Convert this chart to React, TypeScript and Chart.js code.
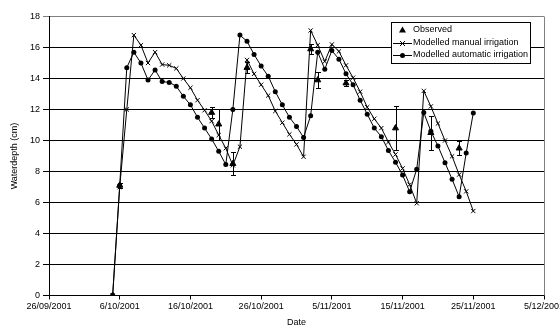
import React, { useEffect, useRef } from "react";
import { Chart, registerables } from "chart.js";

Chart.register(...registerables);

// Days after 26/09/2001 (day 0)
const dayNumbers = [
  9, 10, 11, 12, 13, 14, 15, 16, 17, 18, 19, 20, 21, 22, 23, 24, 25, 26, 27, 28,
  29, 30, 31, 32, 33, 34, 35, 36, 37, 38, 39, 40, 41, 42, 43, 44, 45, 46, 47, 48,
  49, 50, 51, 52, 53, 54, 55, 56, 57, 58, 59, 60,
];

const manualDepth = [
  0, 7.0, 12.0, 16.8, 16.15, 15.0, 15.7, 14.9, 14.85, 14.65, 14.0, 13.4, 12.6, 11.95,
  11.25, 10.35, 9.5, 8.4, 9.6, 15.2, 14.3, 13.6, 12.9, 11.9, 11.15, 10.4, 9.75, 8.95,
  17.1, 16.15, 15.1, 16.2, 15.75, 14.85, 14.05, 13.15, 12.15, 11.4, 10.8, 9.9, 9.1,
  8.2, 7.15, 5.95, 13.2, 12.2, 11.1, 10.0, 8.98, 7.8, 6.72, 5.45,
];

const autoDepth = [
  0, 7.1, 14.7, 15.7, 15.0, 13.9, 14.55, 13.8, 13.75, 13.5, 12.85, 12.3, 11.5, 10.8,
  10.1, 9.3, 8.45, 12.0, 16.8, 16.4, 15.55, 14.8, 14.15, 13.15, 12.3, 11.5, 10.9, 10.2,
  11.6, 15.7, 14.6, 15.8, 15.25, 14.3, 13.6, 12.6, 11.7, 10.8, 10.25, 9.35, 8.6,
  7.77, 6.7, 8.15, 11.8, 10.6, 9.65, 8.57, 7.5, 6.37, 9.2, 11.78,
];

const obsDays = [9, 10, 23, 24, 26, 28, 37, 38, 42, 49, 54, 58];
const obsDepth = [0, 7.1, 11.8, 11.05, 8.5, 14.7, 15.9, 13.9, 13.7, 10.8, 10.5, 9.5];
const obsError = [0, 0.15, 0.35, 1.0, 0.75, 0.35, 0.3, 0.5, 0.2, 1.4, 1.1, 0.45];

const seriesNames = ["Observed", "Modelled manual irrigation", "Modelled automatic irrigation"];

const FONT = "'Liberation Sans', Arial, sans-serif";

function dayLabel(v: number): string {
  const d = new Date(2001, 8, 26 + v);
  const mm = String(d.getMonth() + 1).padStart(2, "0");
  return `${d.getDate()}/${mm}/${d.getFullYear()}`;
}

const errorBarPlugin = {
  id: "errorBars",
  afterDatasetsDraw(chart: any) {
    const { ctx } = chart;
    const xs = chart.scales.x;
    const ys = chart.scales.y;
    ctx.save();
    ctx.strokeStyle = "#000";
    ctx.lineWidth = 1;
    obsDays.forEach((d, i) => {
      if (!obsError[i]) return;
      const x = Math.round(xs.getPixelForValue(d)) + 0.5;
      const yTop = Math.round(ys.getPixelForValue(obsDepth[i] + obsError[i])) + 0.5;
      const yBot = Math.round(ys.getPixelForValue(obsDepth[i] - obsError[i])) + 0.5;
      ctx.beginPath();
      ctx.moveTo(x, yTop);
      ctx.lineTo(x, yBot);
      ctx.moveTo(x - 2.5, yTop);
      ctx.lineTo(x + 2.5, yTop);
      ctx.moveTo(x - 2.5, yBot);
      ctx.lineTo(x + 2.5, yBot);
      ctx.stroke();
    });
    ctx.restore();
  },
};

const frameLegendPlugin = {
  id: "frameLegend",
  afterDraw(chart: any) {
    const { ctx, chartArea } = chart;
    ctx.save();
    // plot area right border (grey)
    ctx.strokeStyle = "#808080";
    ctx.lineWidth = 1;
    ctx.beginPath();
    const rx = Math.round(chartArea.right) + 0.5;
    ctx.moveTo(rx, chartArea.top);
    ctx.lineTo(rx, chartArea.bottom);
    ctx.stroke();

    // legend box
    const bx = 391.5, by = 22.5, bw = 139, bh = 41;
    ctx.fillStyle = "#fff";
    ctx.fillRect(bx, by, bw, bh);
    ctx.strokeStyle = "#000";
    ctx.strokeRect(bx, by, bw, bh);
    const rows = [30, 43, 55];
    const mx = 402.5;
    ctx.font = `9px ${FONT}`;
    ctx.textBaseline = "middle";
    ctx.textAlign = "left";
    rows.forEach((ry, i) => {
      ctx.fillStyle = "#000";
      ctx.strokeStyle = "#000";
      if (i > 0) {
        ctx.beginPath();
        ctx.moveTo(393, ry + 0.5);
        ctx.lineTo(412, ry + 0.5);
        ctx.stroke();
      }
      if (i === 0) {
        ctx.beginPath();
        ctx.moveTo(mx, ry - 3.5);
        ctx.lineTo(mx + 3.5, ry + 2.5);
        ctx.lineTo(mx - 3.5, ry + 2.5);
        ctx.closePath();
        ctx.fill();
      } else if (i === 1) {
        ctx.beginPath();
        ctx.moveTo(mx - 2.5, ry - 2);
        ctx.lineTo(mx + 2.5, ry + 3);
        ctx.moveTo(mx + 2.5, ry - 2);
        ctx.lineTo(mx - 2.5, ry + 3);
        ctx.stroke();
      } else {
        ctx.beginPath();
        ctx.arc(mx, ry + 0.5, 2.5, 0, Math.PI * 2);
        ctx.fill();
      }
      ctx.fillText(seriesNames[i], 413, ry);
    });
    ctx.restore();
  },
};

export default function App() {
  const ref = useRef<HTMLCanvasElement | null>(null);

  useEffect(() => {
    if (!ref.current) return;
    const chart = new Chart(ref.current, {
      type: "line",
      data: {
        datasets: [
          {
            label: seriesNames[0],
            data: obsDays.map((d, i) => ({ x: d, y: obsDepth[i] })),
            showLine: false,
            pointStyle: "triangle",
            pointRadius: 3.5,
            backgroundColor: "#000",
            borderColor: "#000",
            borderWidth: 1,
            order: 0,
          },
          {
            label: seriesNames[1],
            data: dayNumbers.map((d, i) => ({ x: d, y: manualDepth[i] })),
            borderColor: "#000",
            backgroundColor: "#000",
            borderWidth: 1,
            pointStyle: "crossRot",
            pointRadius: 3,
            pointBorderWidth: 1,
            tension: 0,
            order: 2,
          },
          {
            label: seriesNames[2],
            data: dayNumbers.map((d, i) => ({ x: d, y: autoDepth[i] })),
            borderColor: "#000",
            backgroundColor: "#000",
            borderWidth: 1,
            pointStyle: "circle",
            pointRadius: 2.5,
            pointBorderWidth: 0,
            tension: 0,
            order: 1,
          },
        ],
      },
      options: {
        responsive: false,
        animation: false,
        events: [],
        layout: { padding: { top: 16.5, right: 56, left: 0, bottom: 0 } },
        plugins: {
          legend: { display: false },
          tooltip: { enabled: false },
        },
        scales: {
          x: {
            type: "linear",
            min: 0,
            max: 70,
            ticks: {
              stepSize: 10,
              color: "#000",
              font: { family: FONT, size: 9 },
              padding: 2,
              maxRotation: 0,
              callback: (v: any) => dayLabel(Number(v)),
            },
            grid: {
              drawOnChartArea: false,
              drawTicks: true,
              tickLength: 4,
              color: "#000",
            },
            border: { color: "#000", width: 1 },
            title: {
              display: true,
              text: "Date",
              color: "#000",
              font: { family: FONT, size: 9, lineHeight: 1.1 },
              padding: { top: 0, bottom: 0 },
            },
            afterFit: (s: any) => {
              s.height = 31.5;
            },
          },
          y: {
            min: 0,
            max: 18,
            ticks: {
              stepSize: 2,
              color: "#000",
              font: { family: FONT, size: 9 },
              padding: 3,
            },
            grid: {
              color: (c: any) => (c.tick && c.tick.value === 18 ? "#808080" : "#000"),
              tickLength: 6,
              lineWidth: 1,
            },
            border: { color: "#000", width: 1 },
            title: {
              display: true,
              text: "Waterdepth (cm)",
              color: "#000",
              font: { family: FONT, size: 9, lineHeight: 1.2 },
              padding: { top: 9, bottom: 0 },
            },
            afterFit: (s: any) => {
              s.width = 49;
            },
          },
        },
      },
      plugins: [errorBarPlugin, frameLegendPlugin],
    });
    return () => chart.destroy();
  }, []);

  return (
    <div
      style={{
        position: "absolute",
        left: 0,
        top: 0,
        width: 560,
        height: 327,
        overflow: "hidden",
        background: "#fff",
      }}
    >
      <canvas ref={ref} width={600} height={327} style={{ display: "block" }} />
    </div>
  );
}
